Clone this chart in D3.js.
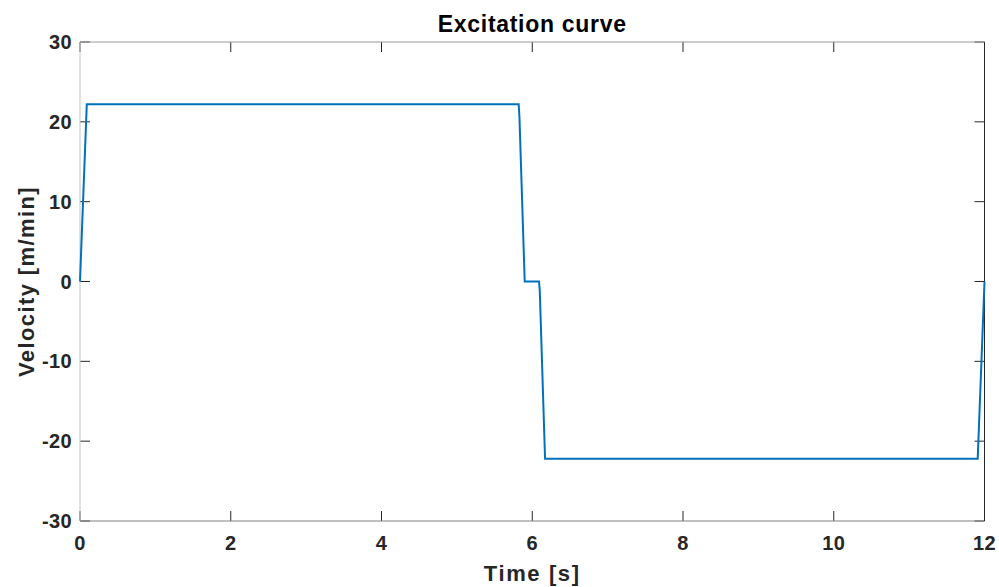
<!DOCTYPE html>
<html>
<head>
<meta charset="utf-8">
<script src="https://cdn.jsdelivr.net/npm/d3@7"></script>
<style>
  html, body { margin: 0; padding: 0; background: #fff; }
  svg text { font-family: "Liberation Sans", Arial, Helvetica, sans-serif; font-weight: bold; }
</style>
</head>
<body>
<div id="plot"></div>
<script>
// Excitation curve: velocity against time
const time     = [0, 0.09, 5.82, 5.83, 5.90, 6.09, 6.10, 6.17, 11.91, 12];
const velocity = [0, 22.2, 22.2, 20.6, 0,    0,    -1.2, -22.2, -22.2, 0];
const xTicks = [0, 2, 4, 6, 8, 10, 12];
const yTicks = [-30, -20, -10, 0, 10, 20, 30];

const width = 999, height = 587;
const margin = {top: 42, right: 14.5, bottom: 66, left: 80};

const svg = d3.select("#plot").append("svg")
  .attr("width", width)
  .attr("height", height);

const x = d3.scaleLinear([0, 12], [margin.left, width - margin.right]);
const y = d3.scaleLinear([-30, 30], [height - margin.bottom, margin.top]);

const ink = "#262626";

// ticks (inward, mirrored on all four sides)
const tickLen = 10;
svg.append("g").selectAll("line")
  .data(xTicks).join("line")
    .attr("x1", d => x(d)).attr("x2", d => x(d))
    .attr("y1", y(-30)).attr("y2", y(-30) - tickLen)
    .attr("stroke", ink);
svg.append("g").selectAll("line")
  .data(xTicks).join("line")
    .attr("x1", d => x(d)).attr("x2", d => x(d))
    .attr("y1", y(30)).attr("y2", y(30) + tickLen)
    .attr("stroke", ink);
svg.append("g").selectAll("line")
  .data(yTicks).join("line")
    .attr("x1", x(0)).attr("x2", x(0) + tickLen)
    .attr("y1", d => y(d)).attr("y2", d => y(d))
    .attr("stroke", ink);
svg.append("g").selectAll("line")
  .data(yTicks).join("line")
    .attr("x1", x(12)).attr("x2", x(12) - tickLen)
    .attr("y1", d => y(d)).attr("y2", d => y(d))
    .attr("stroke", ink);

// box
const box = svg.append("g").attr("fill", "none");
box.append("line").attr("x1", x(0)).attr("x2", x(12)).attr("y1", y(30)).attr("y2", y(30)).attr("stroke", "#9a9a9a");
box.append("line").attr("x1", x(0)).attr("x2", x(12)).attr("y1", y(-30)).attr("y2", y(-30)).attr("stroke", "#808080");
box.append("line").attr("x1", x(0)).attr("x2", x(0)).attr("y1", y(30)).attr("y2", y(-30)).attr("stroke", "#c4c4c4");
box.append("line").attr("x1", x(12)).attr("x2", x(12)).attr("y1", y(30)).attr("y2", y(-30)).attr("stroke", ink);

// tick labels
svg.append("g").selectAll("text")
  .data(xTicks).join("text")
    .attr("x", d => x(d))
    .attr("y", y(-30) + 29)
    .attr("text-anchor", "middle")
    .attr("font-size", 20)
    .attr("letter-spacing", 0.4)
    .attr("fill", ink)
    .text(d => d);
svg.append("g").selectAll("text")
  .data(yTicks).join("text")
    .attr("x", x(0) - 8)
    .attr("y", d => y(d) + 7)
    .attr("text-anchor", "end")
    .attr("font-size", 20)
    .attr("letter-spacing", 0.4)
    .attr("fill", ink)
    .text(d => d);

// the curve
const line = d3.line()
  .x((d, i) => x(time[i]))
  .y(d => y(d));
svg.append("path")
  .datum(velocity)
  .attr("d", line)
  .attr("fill", "none")
  .attr("stroke", "#0072BD")
  .attr("stroke-width", 2);

// titles
svg.append("text")
  .attr("x", (x(0) + x(12)) / 2)
  .attr("y", 31.5)
  .attr("text-anchor", "middle")
  .attr("font-size", 23)
  .attr("letter-spacing", 0.7)
  .attr("fill", "#000")
  .text("Excitation curve");
svg.append("text")
  .attr("x", (x(0) + x(12)) / 2)
  .attr("y", 581)
  .attr("text-anchor", "middle")
  .attr("font-size", 22)
  .attr("letter-spacing", 1.6)
  .attr("fill", ink)
  .text("Time [s]");
svg.append("text")
  .attr("transform", `translate(34, ${(y(30) + y(-30)) / 2}) rotate(-90)`)
  .attr("text-anchor", "middle")
  .attr("font-size", 22)
  .attr("letter-spacing", 1.4)
  .attr("fill", ink)
  .text("Velocity [m/min]");
</script>
</body>
</html>
